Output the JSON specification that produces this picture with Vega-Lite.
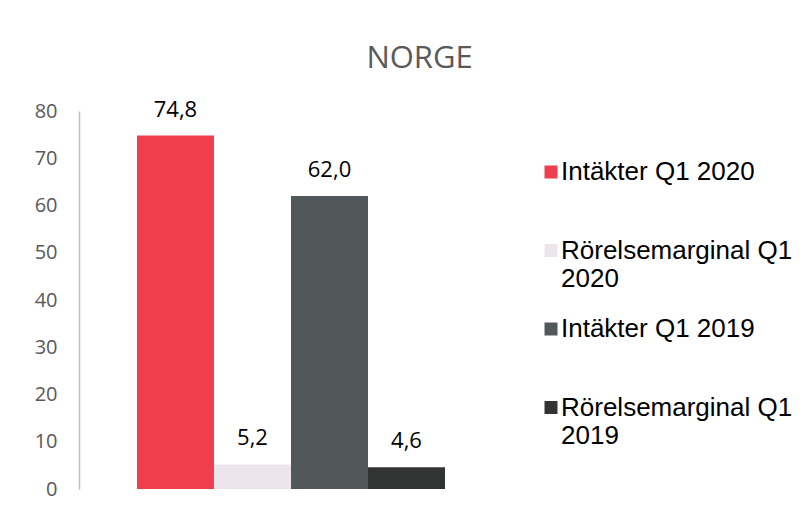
{
  "$schema": "https://vega.github.io/schema/vega-lite/v6.json",
  "width": 424,
  "height": 378,
  "autosize": {"type": "none"},
  "padding": {"left": 79, "top": 111, "right": 300, "bottom": 24},
  "background": "white",
  "title": {"text": "NORGE", "frame": "bounds", "anchor": "middle", "font": "Open Sans", "fontSize": 31, "fontWeight": "normal", "color": "#595959", "offset": 24, "dx": 6},
  "data": {"values": [
    {"serie": "Intäkter Q1 2020", "value": 74.8},
    {"serie": "Rörelsemarginal Q1 2020", "value": 5.2},
    {"serie": "Intäkter Q1 2019", "value": 62.0},
    {"serie": "Rörelsemarginal Q1 2019", "value": 4.6}
  ]},
  "transform": [{"calculate": "replace(format(datum.value, '.1f'), '.', ',')", "as": "label"}],
  "encoding": {
    "x": {"field": "serie", "type": "nominal", "sort": null, "axis": null, "scale": {"paddingInner": 0, "paddingOuter": 0.753}},
    "y": {"field": "value", "type": "quantitative", "scale": {"domain": [0, 80], "nice": false},
      "axis": {"title": null, "values": [0, 10, 20, 30, 40, 50, 60, 70, 80], "grid": false, "ticks": false, "domainColor": "#bfbfbf", "domainWidth": 1.5, "labelFont": "Open Sans", "labelFontSize": 20, "labelColor": "#595959", "labelPadding": 22}}
  },
  "layer": [
    {
      "mark": {"type": "bar"},
      "encoding": {
        "color": {"field": "serie", "type": "nominal",
          "scale": {"domain": ["Intäkter Q1 2020", "Rörelsemarginal Q1 2020", "Intäkter Q1 2019", "Rörelsemarginal Q1 2019"], "range": ["#EF3F4F", "#ECE5EC", "#52575A", "#323433"]},
          "legend": {"title": null, "orient": "none", "legendX": 459, "legendY": 48, "direction": "vertical", "symbolType": "square", "symbolSize": 169, "symbolStrokeWidth": 0, "symbolOpacity": 1, "labelFont": "Liberation Sans", "labelFontSize": 26, "labelColor": "black", "labelLimit": 400, "labelOffset": -3, "labelBaseline": "top", "gridAlign": "all", "rowPadding": 24.5,
            "labelExpr": "indexof(datum.label, 'Rörelse') == 0 ? [substring(datum.label, 0, 18), substring(datum.label, 19)] : [datum.label, '']",
            "encode": {"labels": {"update": {"dy": {"value": -13}, "lineHeight": {"value": 28}}}}}
        }
      }
    },
    {
      "mark": {"type": "text", "dy": -19, "baseline": "alphabetic", "font": "Open Sans", "fontSize": 22, "color": "black"},
      "encoding": {"text": {"field": "label"}}
    }
  ],
  "config": {"view": {"stroke": null}}
}
